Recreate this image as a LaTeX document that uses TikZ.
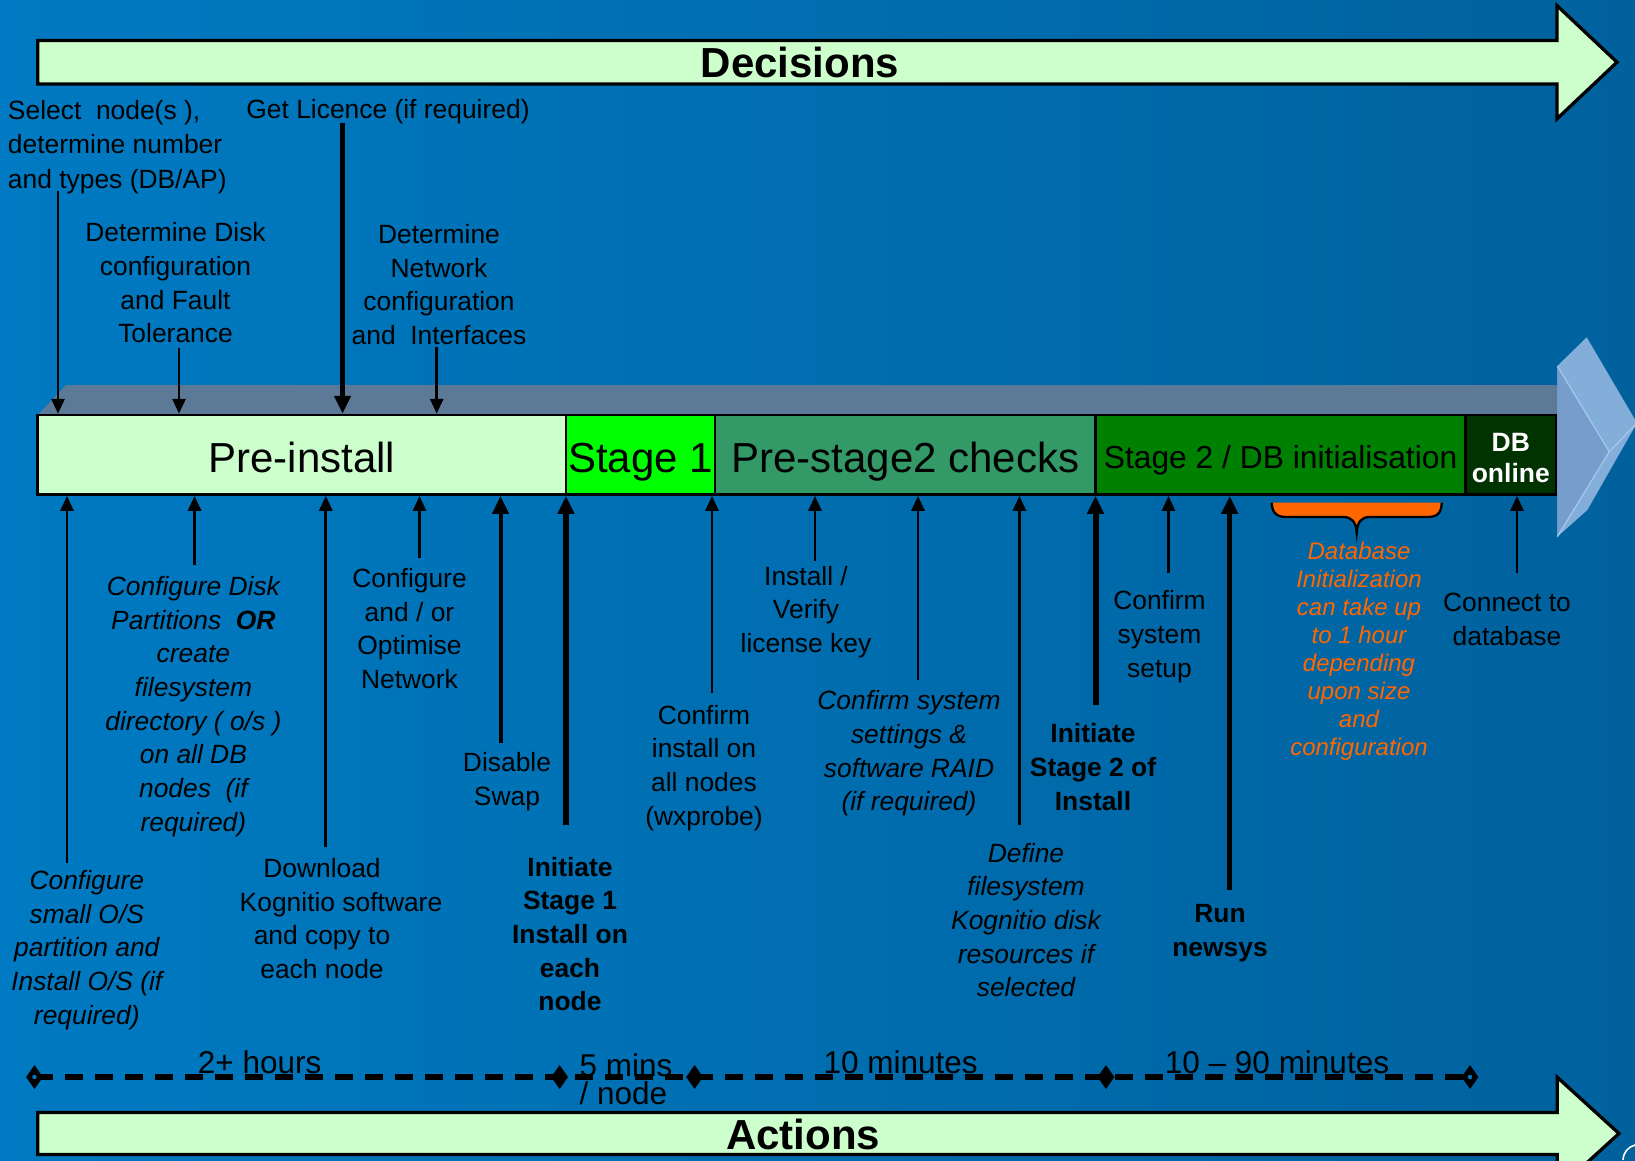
\documentclass[tikz,border=0pt]{standalone}
\usepackage{fontspec}
\setmainfont{Liberation Sans}
\usetikzlibrary{arrows.meta,shapes.geometric}
\definecolor{bgL}{RGB}{0,122,194}
\definecolor{bgR}{RGB}{0,97,157}
\definecolor{pale}{HTML}{CCFFCC}
\definecolor{cLime}{HTML}{00FF00}
\definecolor{cSea}{HTML}{339966}
\definecolor{cGreen}{HTML}{008000}
\definecolor{cDark}{HTML}{003300}
\definecolor{cOrange}{HTML}{FF6600}
\definecolor{cBand}{HTML}{5C7A98}
\definecolor{cFaceL}{HTML}{84AEDA}
\definecolor{cFaceD}{HTML}{769DCB}
\definecolor{cEdge}{HTML}{A3C6EA}
\begin{document}
\begin{tikzpicture}[x=1pt,y=-1pt,
  lbl/.style={align=center, inner sep=0pt, text=black, font=\fontsize{26.4}{33.7}\selectfont},
  lbli/.style={lbl, font=\fontsize{26.4}{33.7}\selectfont\itshape},
  lblb/.style={lbl, font=\fontsize{26.4}{33.7}\selectfont\bfseries},
  stagebox/.style={draw=black, line width=2.5pt, minimum height=79.6pt, inner sep=0pt, text depth=0pt},
  bigtext/.style={font=\fontsize{42}{46}\selectfont, text height=34.5pt},
  arrn/.style={line width=2.8pt, -{Triangle[length=15pt,width=13pt]}},
  arrt/.style={line width=#1, -{Triangle[length=18pt,width=16pt]}},
  bigarrow/.style={fill=pale, draw=black, line width=3.3pt, line join=miter},
  tlbl/.style={inner sep=0pt, font=\fontsize{31.5}{28.5}\selectfont},
  middia/.style={diamond, fill=black, minimum width=17pt, minimum height=24pt, inner sep=0pt},
  enddia/.style={middia, path picture={\fill[bgL] (path picture bounding box.center) circle (2.2pt);}},
  tdash/.style={line width=6.5pt, dash pattern=on 18pt off 12pt}
]
\useasboundingbox (0,0) rectangle (1635,1160);
\clip (0,0) rectangle (1635,1160);
\shade[left color=bgL, right color=bgR] (0,0) rectangle (1635,1160);

% top and bottom big arrows
\path[bigarrow] (37.7,40.4) -- (1557,40.4) -- (1557,5.6) -- (1617,62.2) -- (1557,118.8) -- (1557,84) -- (37.7,84) -- cycle;
\node[inner sep=0pt, font=\fontsize{42}{46}\selectfont\bfseries] (dec) at (800,62.5) {Decisions};
\path[bigarrow] (37.7,1112.5) -- (1557.3,1112.5) -- (1557.3,1077.3) -- (1619,1133.5) -- (1557.3,1189.7) -- (1557.3,1154.5) -- (37.7,1154.5) -- cycle;
\node[inner sep=0pt, font=\fontsize{42}{46}\selectfont\bfseries] (act) at (803,1134.5) {Actions};

% 3D band and chevron
\fill[cBand] (37.7,415) -- (66,385) -- (1557.3,385) -- (1557.3,415) -- cycle;
\fill[cFaceL] (1557.3,366) -- (1586.7,337.3) -- (1637,423) -- (1587.3,510) -- (1557.3,536.7) -- cycle;
\fill[cFaceD] (1557.3,366) -- (1609.3,451.7) -- (1557.3,536.7) -- cycle;
\draw[cEdge, line width=1.3pt] (1557.3,366) -- (1609.3,451.7) -- (1557.3,536.7);
\draw[cEdge, line width=1.3pt] (1609.3,451.7) -- (1637,423);

% stage boxes
\node[stagebox, bigtext, fill=pale, minimum width=528.3pt] (pre) at (301.85,454.8) {Pre-install};
\node[stagebox, bigtext, fill=cLime, minimum width=149pt] (st1) at (640.5,454.8) {Stage 1};
\node[stagebox, bigtext, fill=cSea, minimum width=380.5pt] (ps2) at (905.25,454.8) {Pre-stage2 checks};
\node[stagebox, fill=cGreen, minimum width=370.1pt, font=\fontsize{31.8}{35}\selectfont, text height=27.2pt] (s2) at (1280.55,454.8) {Stage 2 / DB initialisation};
\node[stagebox, fill=cDark, minimum width=90.4pt, text=white, align=center, font=\fontsize{26.5}{31}\selectfont\bfseries, text height=54.5pt] (dbo) at (1510.8,454.8) {DB\\online};

% decision labels
\node[lbl, align=left, anchor=west, font=\fontsize{26.4}{34.2}\selectfont] (sel) at (7.8,147) {Select\ \ node(s\ ),\\determine number\\and types (DB/AP)};
\node[lbl] (lic) at (388,111.5) {Get Licence (if required)};
\node[lbl] (disk) at (175.5,283) {Determine Disk\\configuration\\and Fault\\Tolerance};
\node[lbl] (net) at (439,284.5) {Determine\\Network\\configuration\\and\ \ Interfaces};

\coordinate (selS) at (58,191);
\coordinate (licS) at (342.6,123);
\coordinate (diskS) at (179,348);
\coordinate (netS) at (436.7,347);
\draw[arrn] (selS) -- (selS |- pre.north);
\draw[arrt=4.5pt] (licS) -- (licS |- pre.north);
\draw[arrn] (diskS) -- (diskS |- pre.north);
\draw[arrn] (netS) -- (netS |- pre.north);

% action labels
\node[lbli] (la) at (86.8,950) {Configure\\small O/S\\partition and\\Install O/S (if\\required)};
\node[lbli] (lb) at (193.4,706.5) {Configure Disk\\Partitions\ \ \textbf{OR}\\create\\filesystem\\directory ( o/s )\\on all DB\\nodes\ \ (if\\required)};
\node[lbl] (lc) at (322,918.5) {Download\\\hspace*{38pt}Kognitio software\\and copy to\\each node};
\node[lbl] (ld) at (409.5,628.5) {Configure\\and / or\\Optimise\\Network};
\node[lbl] (le) at (507,781.5) {Disable\\Swap};
\node[lblb] (lf) at (570,934) {Initiate\\Stage 1\\Install on\\each\\node};
\node[lbl] (lg) at (704,768) {Confirm\\install on\\all nodes\\(wxprobe)};
\node[lbl] (lh) at (806,612) {Install /\\Verify\\license key};
\node[lbli] (li) at (909,753.5) {Confirm system\\settings \&\\software RAID\\(if required)};
\node[lbli] (lj) at (1026,920) {Define\\filesystem\\Kognitio disk\\resources if\\selected};
\node[lblb] (lk) at (1093,767) {Initiate\\Stage 2 of\\Install};
\node[lbl] (ll) at (1159.5,636.5) {Confirm\\system\\setup};
\node[lblb] (lm) at (1220,933) {Run\\newsys};
\node[lbli, text=cOrange, font=\fontsize{24}{28}\selectfont\itshape] (lorange) at (1359,651) {Database\\Initialization\\can take up\\to 1 hour\\depending\\upon size\\and\\configuration};
\node[lbl] (lo) at (1507,619.5) {Connect to\\database};

\coordinate (aS) at (67,863);
\coordinate (bS) at (194.6,565);
\coordinate (cS) at (325.8,847);
\coordinate (dS) at (419.5,558);
\coordinate (eS) at (500.5,743);
\coordinate (fS) at (566,825);
\coordinate (gS) at (712,693);
\coordinate (hS) at (815,561);
\coordinate (iS) at (918,680);
\coordinate (jS) at (1019.4,825);
\coordinate (kS) at (1095.5,705);
\coordinate (lS) at (1168.5,573);
\coordinate (mS) at (1229.7,890);
\coordinate (oS) at (1517,573);
\draw[arrn] (aS) -- (aS |- pre.south);
\draw[arrn] (bS) -- (bS |- pre.south);
\draw[arrn] (cS) -- (cS |- pre.south);
\draw[arrn] (dS) -- (dS |- pre.south);
\draw[arrt=4pt] (eS) -- (eS |- pre.south);
\draw[arrt=6.5pt] (fS) -- (fS |- st1.south);
\draw[arrn] (gS) -- (gS |- st1.south);
\draw[arrn] (hS) -- (hS |- ps2.south);
\draw[arrn] (iS) -- (iS |- ps2.south);
\draw[arrn] (jS) -- (jS |- ps2.south);
\draw[arrt=6pt] (kS) -- (kS |- s2.south);
\draw[arrn] (lS) -- (lS |- s2.south);
\draw[arrt=5.5pt] (mS) -- (mS |- s2.south);
\draw[arrn] (oS) -- (oS |- dbo.south);

% orange brace
\fill[cOrange] (1271.7,502.7) .. controls (1272,512) and (1276,517) .. (1286,517) -- (1343,517) .. controls (1352,517) and (1356,522) .. (1356.7,532.7) .. controls (1357.4,522) and (1361,517) .. (1370,517) -- (1428,517) .. controls (1438,517) and (1441.5,512) .. (1441.7,502.7) -- cycle;
\draw[black, line width=2.3pt] (1271.7,502.7) .. controls (1272,512) and (1276,517) .. (1286,517) -- (1343,517) .. controls (1352,517) and (1356,522) .. (1356.7,532.7) .. controls (1357.4,522) and (1361,517) .. (1370,517) -- (1428,517) .. controls (1438,517) and (1441.5,512) .. (1441.7,502.7);

% timeline
\node[tlbl, anchor=base] (t1) at (259.7,1073) {2+ hours};
\node[tlbl, anchor=west, align=left] (t2) at (579.5,1079) {5 mins\\/ node};
\node[tlbl, anchor=base] (t3) at (900.7,1073) {10 minutes};
\node[tlbl, anchor=base] (t4) at (1277,1073) {10 – 90 minutes};
\coordinate (p0) at (34.5,1077);
\coordinate (p1) at (559.6,1077);
\coordinate (p2) at (694.6,1077);
\coordinate (p3) at (1106,1077);
\coordinate (p4) at (1470,1077);
\draw[tdash] (p0) -- (p4);
\node[enddia] (d0) at (p0) {};
\node[middia] (d1) at (p1) {};
\node[middia] (d2) at (p2) {};
\node[middia] (d3) at (p3) {};
\node[enddia] (d4) at (p4) {};

% corner decoration
\draw[white, line width=1.6pt] (1623,1160) .. controls (1623.5,1152) and (1628,1147) .. (1635,1145);
\end{tikzpicture}
\end{document}
